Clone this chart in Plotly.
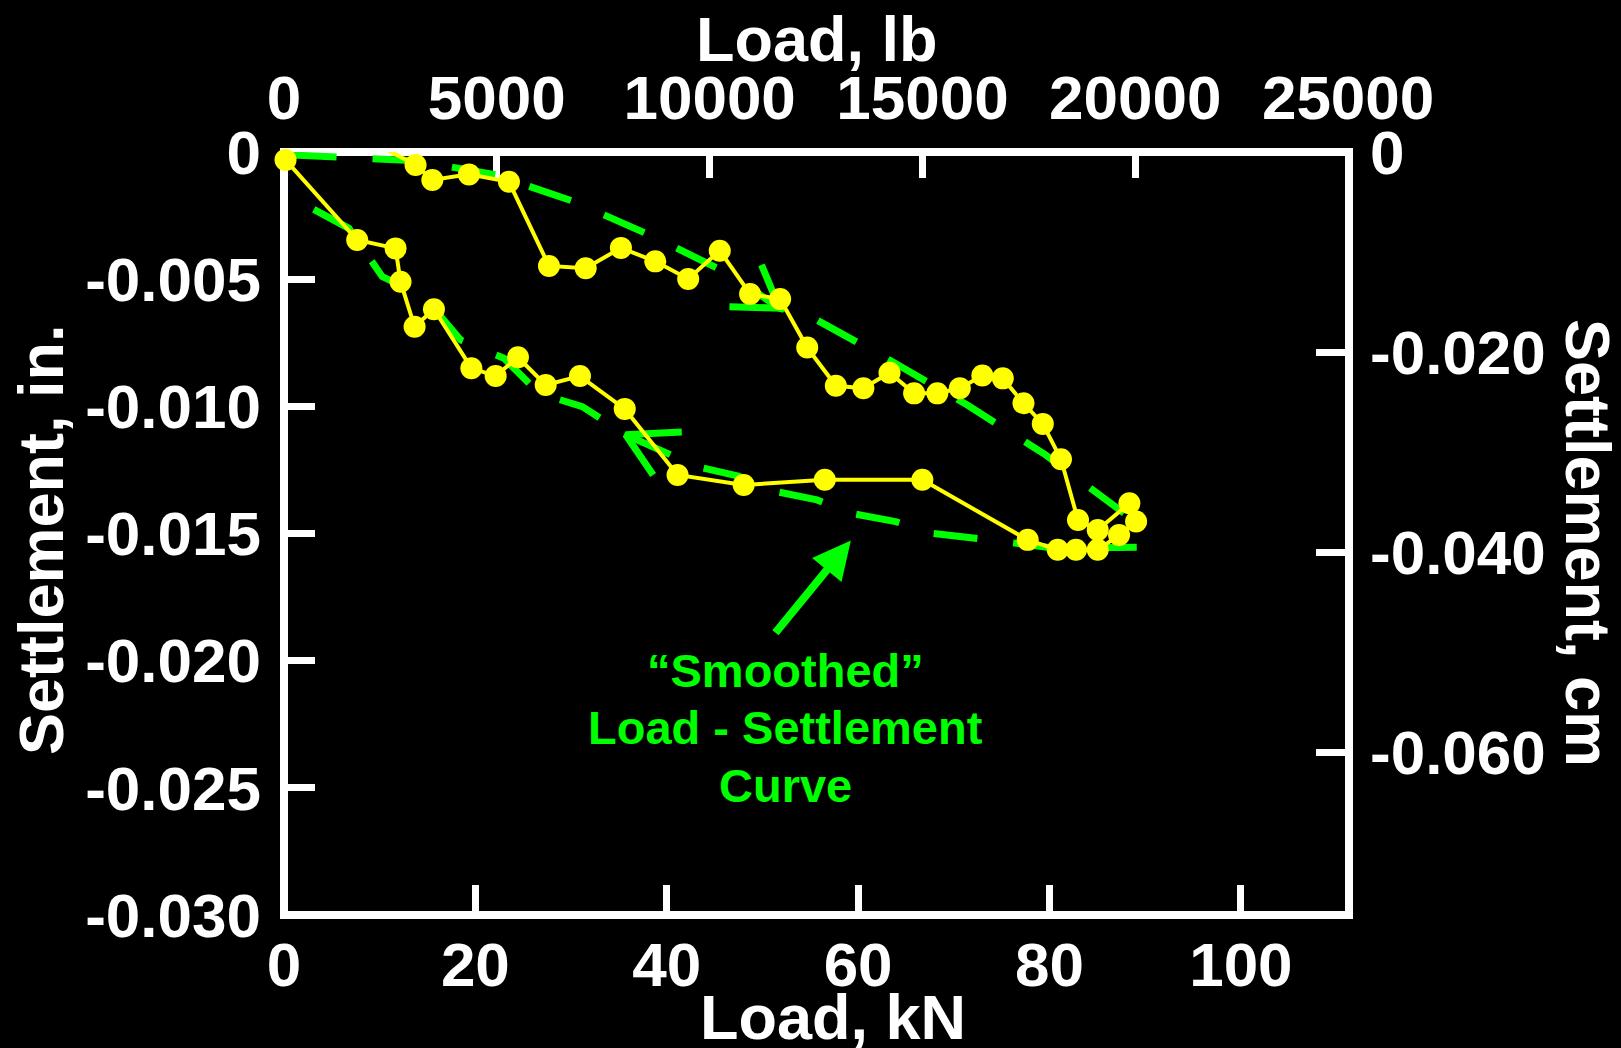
import plotly.graph_objects as go

# ---------------- data ----------------
# measured load-settlement points (Load in kN, settlement in inches), in test order
load_kn = [-0.89, 0.68, 4.52, 9.81, 13.75, 15.50, 19.33, 23.51, 27.69, 31.53,
           35.21, 38.80, 42.24, 45.54, 48.71, 51.85, 54.68, 57.67, 60.55, 63.28,
           65.85, 68.28, 70.63, 72.98, 75.12, 77.28, 79.30, 81.20, 82.98,
           85.04, 88.35, 89.05, 87.27, 85.04, 82.77, 80.86,
           77.72, 66.71, 56.52, 48.04, 41.13, 35.61, 30.93, 27.35, 24.45, 22.12,
           19.58, 15.67, 13.65, 12.18, 11.66, 7.65, 0.16]
settle_in = [0.00028, 0.00008, 0.00034, 0.00028, -0.00051, -0.00110, -0.00088, -0.00117, -0.00448, -0.00457,
             -0.00377, -0.00430, -0.00499, -0.00388, -0.00558, -0.00578, -0.00769, -0.00919, -0.00929, -0.00868,
             -0.00949, -0.00949, -0.00929, -0.00879, -0.00890, -0.00988, -0.01069, -0.01208, -0.01447,
             -0.01486, -0.01381, -0.01453, -0.01506, -0.01564, -0.01564, -0.01564,
             -0.01525, -0.01289, -0.01289, -0.01309, -0.01270, -0.01010, -0.00881, -0.00916, -0.00807, -0.00881,
             -0.00850, -0.00618, -0.00687, -0.00510, -0.00379, -0.00346, -0.00031]

# smoothed loading curve
smooth_load_x = [0.9, 13.75, 22.12, 30.31, 38.61, 46.69, 51.78, 54.75, 63.28, 71.37, 79.59, 87.79]
smooth_load_y = [-0.00012, -0.00034, -0.00090, -0.00195, -0.00333, -0.00483, -0.00614, -0.00641,
                 -0.00818, -0.00994, -0.01191, -0.01420]
# smoothed unloading curve
smooth_unload_x = [89.12, 80.53, 76.05, 67.75, 63.91, 59.62, 55.69, 51.40, 47.48, 43.18, 35.71,
                   31.18, 26.65, 22.99, 18.46, 14.62, 10.27, 6.78, 2.43]
smooth_unload_y = [-0.01554, -0.01558, -0.01536, -0.01499, -0.01453, -0.01423, -0.01368, -0.01335,
                   -0.01274, -0.01237, -0.01112, -0.01001, -0.00949, -0.00811, -0.00739, -0.00569,
                   -0.00490, -0.00300, -0.00212]

# direction arrowheads on the smoothed curves (leg end, tip, leg end)
head_load_x = [49.90, 51.78, 46.55]
head_load_y = [-0.00444, -0.00614, -0.00608]
head_unload_x = [41.57, 35.71, 38.58]
head_unload_y = [-0.01101, -0.01112, -0.01270]

# pointer arrow (tip and tail)
pointer_tip = (59.24, -0.01528)
pointer_tail = (51.05, -0.01905)

# axes
x_kn_ticks = [0, 20, 40, 60, 80, 100]
x_lb_ticks = [0, 5000, 10000, 15000, 20000, 25000]
x_lb_labels = ["0", "5000", "10000", "15000", "20000", "25000"]
y_in_ticks = [0, -0.005, -0.010, -0.015, -0.020, -0.025, -0.030]
y_in_labels = ["0", "-0.005", "-0.010", "-0.015", "-0.020", "-0.025", "-0.030"]
y_cm_ticks = [0, -0.020, -0.040, -0.060]
y_cm_labels = ["0", "-0.020", "-0.040", "-0.060"]
X_MAX_KN = 111.3
KN_TO_LB = 224.809
IN_TO_CM = 2.54
Y_MIN_IN = -0.030

annotation_lines = ["\u201cSmoothed\u201d", "Load - Settlement", "Curve"]

# ---------------- layout ----------------
W, H = 1621, 1048
L, R, T, B = 284, 272, 152, 133
PW, PH = W - L - R, H - T - B

FONT = "Liberation Sans, Arial, sans-serif"
GREEN = "#00FF00"
YELLOW = "#FFFF00"


def px(x):
    return (x - L) / PW


def py(y):
    return (H - B - y) / PH


fig = go.Figure()

fig.add_trace(go.Scatter(
    x=smooth_load_x, y=smooth_load_y, mode="lines",
    line=dict(color=GREEN, width=7, dash="44px,36px"), hoverinfo="skip"))
fig.add_trace(go.Scatter(
    x=smooth_unload_x, y=smooth_unload_y, mode="lines",
    line=dict(color=GREEN, width=7, dash="44px,36px"), hoverinfo="skip"))
fig.add_trace(go.Scatter(
    x=head_load_x, y=head_load_y, mode="lines",
    line=dict(color=GREEN, width=7), hoverinfo="skip"))
fig.add_trace(go.Scatter(
    x=head_unload_x, y=head_unload_y, mode="lines",
    line=dict(color=GREEN, width=7), hoverinfo="skip"))
fig.add_trace(go.Scatter(
    x=load_kn, y=settle_in, mode="lines+markers",
    line=dict(color=YELLOW, width=4),
    marker=dict(color=YELLOW, size=22, line=dict(width=0)),
    cliponaxis=False))

# secondary axes helper trace (invisible)
fig.add_trace(go.Scatter(x=[0], y=[0], xaxis="x2", yaxis="y2", mode="markers",
                         marker=dict(opacity=0), hoverinfo="skip"))

tickfont = dict(family=FONT, size=62, color="white", weight="bold")
common = dict(showgrid=False, zeroline=False, showline=False, ticks="inside",
              tickcolor="white", tickwidth=7, tickfont=tickfont, layer="below traces")

fig.update_layout(
    width=W, height=H,
    margin=dict(l=L, r=R, t=T, b=B, pad=0),
    paper_bgcolor="black", plot_bgcolor="black",
    showlegend=False, template="none",
    xaxis=dict(range=[0, X_MAX_KN], tickvals=x_kn_ticks, ticklen=30,
               ticklabelstandoff=8, **common),
    xaxis2=dict(range=[0, X_MAX_KN * KN_TO_LB], tickvals=x_lb_ticks, ticktext=x_lb_labels,
                ticklen=26, ticklabelstandoff=20,
                overlaying="x", side="top", anchor="y", **common),
    yaxis=dict(range=[Y_MIN_IN, 0], tickvals=y_in_ticks, ticktext=y_in_labels,
               ticklen=31, ticklabelstandoff=22, **common),
    yaxis2=dict(range=[Y_MIN_IN * IN_TO_CM, 0], tickvals=y_cm_ticks, ticktext=y_cm_labels,
                ticklen=33, ticklabelstandoff=20,
                overlaying="y", side="right", anchor="x", **common),
)

# frame
fig.add_shape(type="rect", xref="paper", yref="paper", x0=0, x1=1, y0=0, y1=1,
              line=dict(color="white", width=8), layer="below")

titlefont = dict(family=FONT, size=63, color="white", weight="bold")
fig.add_annotation(text="Load, lb", xref="paper", yref="paper", x=px(816), y=py(39),
                   showarrow=False, font=titlefont, xanchor="center", yanchor="middle")
fig.add_annotation(text="Load, kN", xref="paper", yref="paper", x=px(833), y=py(1017),
                   showarrow=False, font=titlefont, xanchor="center", yanchor="middle")
fig.add_annotation(text="Settlement, in.", xref="paper", yref="paper", x=px(41), y=py(540),
                   showarrow=False, font=titlefont, textangle=-90,
                   xanchor="center", yanchor="middle")
fig.add_annotation(text="Settlement, cm", xref="paper", yref="paper", x=px(1588), y=py(543),
                   showarrow=False, font=titlefont, textangle=90,
                   xanchor="center", yanchor="middle")

greenfont = dict(family=FONT, size=47, color=GREEN, weight="bold")
for line_text, ypix in zip(annotation_lines, [670, 727.5, 785]):
    fig.add_annotation(text=line_text, xref="paper", yref="paper", x=px(785.5), y=py(ypix),
                       showarrow=False, font=greenfont, xanchor="center", yanchor="middle")

fig.add_annotation(text=" ", x=pointer_tip[0], y=pointer_tip[1], xref="x", yref="y",
                   ax=pointer_tail[0], ay=pointer_tail[1], axref="x", ayref="y",
                   showarrow=True, arrowhead=2, arrowsize=0.95, arrowwidth=8,
                   arrowcolor=GREEN, standoff=0, startstandoff=0)

fig.write_html(
    "out.html",
    config={"displayModeBar": False},
    post_script="document.body.style.margin='0';document.body.style.padding='0';"
                "document.body.style.background='black';"
                "document.documentElement.style.background='black';",
)
